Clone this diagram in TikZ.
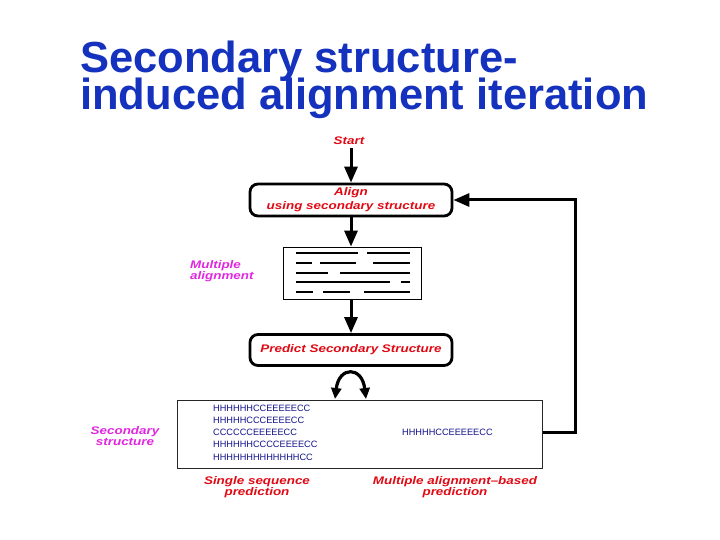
\documentclass[tikz,border=0pt]{standalone}
\usepackage{fontspec}
\setmainfont{Liberation Sans}
\newfontfamily\widefont[FakeStretch=1.22]{Liberation Sans}
\usetikzlibrary{arrows.meta}
\definecolor{titleblue}{RGB}{20,50,190}
\definecolor{lblred}{RGB}{225,10,20}
\definecolor{lblmag}{RGB}{225,40,225}
\definecolor{seqblue}{RGB}{20,20,140}
\begin{document}
\begin{tikzpicture}[x=1pt,y=-1pt,
  lbl/.style={font=\widefont\bfseries\itshape\fontsize{11}{10.5}\selectfont, inner sep=0, align=center},
  redlbl/.style={lbl, text=lblred},
  maglbl/.style={lbl, text=lblmag},
  stepbox/.style={draw, line width=2.8pt, rounded corners=8pt, minimum width=202pt, minimum height=32pt, inner sep=0, text=lblred, font=\widefont\bfseries\itshape\fontsize{11}{14}\selectfont, align=center},
  arr/.style={line width=3pt, line join=miter, -{Triangle[length=16pt,width=13pt]}},
  dbl/.style={line width=3.2pt, {Triangle[length=11pt,width=10pt]}-{Triangle[length=11pt,width=10pt]}},
  seq/.style={font=\fontsize{9.2}{10}\selectfont, text=seqblue, anchor=base west, inner sep=0},
  mline/.style={line width=2.3pt},
  titlefont/.style={font=\bfseries\fontsize{43.5}{35}\selectfont, text=titleblue, anchor=base west, inner sep=0}
]
\useasboundingbox[fill=white] (0,0) rectangle (720,540);

% title
\node[titlefont] (t1) at (80,73) {Secondary structure-};
\node[titlefont] (t2) at (80,110) {induced alignment iteration};

% flow nodes
\node[redlbl] (start) at (349,141) {Start};
\node[stepbox] (align) at (351,200) {Align\\using secondary structure};
\node[draw, line width=0.8pt, minimum width=138pt, minimum height=52pt, inner sep=0] (malign) at (352,273) {};
\node[stepbox, minimum height=31pt] (predict) at (351,350) {Predict Secondary Structure};
\node[draw=black!85, line width=1pt, minimum width=365pt, minimum height=68pt, inner sep=0] (sec) at (359.5,434) {};

% alignment dashes
\draw[mline] (296,252.7) -- (358,252.7) (367,252.7) -- (410,252.7);
\draw[mline] (296,262.7) -- (312,262.7) (320,262.7) -- (356,262.7) (373,262.7) -- (410,262.7);
\draw[mline] (296,272.7) -- (328,272.7) (340,272.7) -- (410,272.7);
\draw[mline] (296,281.7) -- (390,281.7) (401,281.7) -- (410,281.7);
\draw[mline] (296,292.3) -- (313,292.3) (323,292.3) -- (350,292.3) (364,292.3) -- (410,292.3);

% sequences
\node[seq] (s1) at (213,411.5) {HHHHHHCCEEEEECC};
\node[seq] (s2) at (213,423.5) {HHHHHCCCEEEECC};
\node[seq] (s3) at (213,435.5) {CCCCCCEEEEECC};
\node[seq] (s4) at (213,447.5) {HHHHHHCCCCEEEECC};
\node[seq] (s5) at (213,460.5) {HHHHHHHHHHHHHCC};
\node[seq] (s6) at (402,435.5) {HHHHHCCEEEEECC};

% labels
\node[maglbl, align=left, anchor=west] (mlab) at (190,271) {Multiple\\alignment};
\node[maglbl] (slab) at (125,436) {Secondary\\structure};
\node[redlbl] (single) at (257,487) {Single sequence\\prediction};
\node[redlbl] (multi) at (455,487) {Multiple alignment–based\\prediction};

% connectors
\draw[arr] (align.north |- start.south) ++(0,3) -- (align.north);
\draw[arr] (align.south) -- (align.south |- malign.north);
\draw[arr] (predict.north |- malign.south) -- (predict.north);
\coordinate (pl) at (335,399);
\coordinate (pr) at (366,399);
\draw[dbl] (pl) .. controls (339,366) and (362,366) .. (pr);
\coordinate (fbb) at (575,432);
\coordinate (fbt) at (575,200);
\draw[arr] (sec.east |- fbb) -- (fbb) -- (fbt) -- (align.east);
\end{tikzpicture}
\end{document}
